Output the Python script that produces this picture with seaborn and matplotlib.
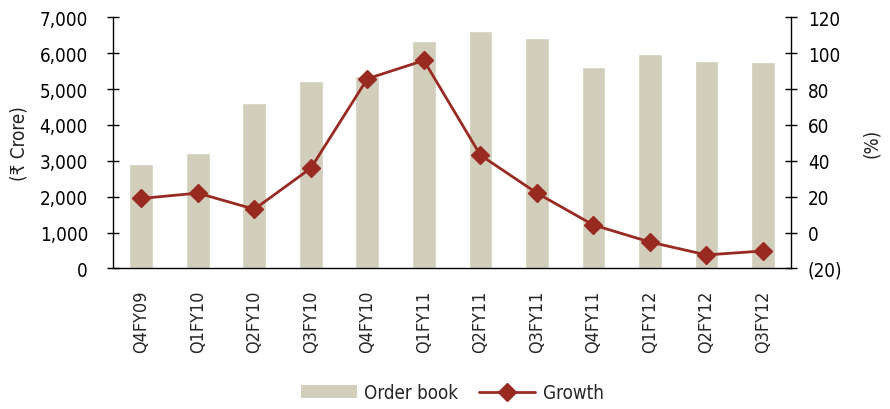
import matplotlib
matplotlib.use("Agg")
import matplotlib.pyplot as plt
import seaborn as sns
import pandas as pd
from matplotlib.patches import Patch
from matplotlib.lines import Line2D
from matplotlib.ticker import FuncFormatter, FixedLocator, NullFormatter

quarters = ["Q4FY09", "Q1FY10", "Q2FY10", "Q3FY10", "Q4FY10", "Q1FY11",
            "Q2FY11", "Q3FY11", "Q4FY11", "Q1FY12", "Q2FY12", "Q3FY12"]
order_book = [2900, 3230, 4600, 5230, 5370, 6330, 6610, 6420, 5620, 5980, 5780, 5760]
growth = [19.0, 22.0, 13.0, 35.9, 85.8, 96.0, 43.2, 22.0, 4.2, -5.3, -12.5, -10.3]

sns.set_theme(style="white")
plt.rcParams['font.family'] = ['DejaVu Sans']
plt.rcParams['font.stretch'] = 'condensed'
plt.rcParams['font.size'] = 13.5

BAR = "#D2CEBC"
RED = "#992A22"
FS = 13.5

df = pd.DataFrame({"q": quarters, "ob": order_book, "g": growth})

fig = plt.figure(figsize=(8.9, 4.1), dpi=100)
ax = fig.add_axes([0.127, 0.343, 0.762, 0.612])
sns.barplot(data=df, x="q", y="ob", color=BAR, width=0.42, saturation=1, ax=ax)
ax.set_ylim(0, 7000)
ax.set_xlim(-0.5, len(quarters) - 0.5)
ax.set_yticks(range(0, 7001, 1000))
ax.yaxis.set_major_formatter(FuncFormatter(lambda v, p: f"{int(v):,}"))
ax.set_ylabel("(₹ Crore)", fontsize=FS, color="#222222", labelpad=8)
ax.set_xlabel("")

ax2 = ax.twinx()
ax2.plot(range(len(quarters)), growth, color=RED, lw=2, marker="D", markersize=9.5)
ax2.set_ylim(-20, 120)
ax2.set_yticks(range(-20, 121, 20))
ax2.yaxis.set_major_formatter(FuncFormatter(lambda v, p: f"({abs(int(v))})" if v < 0 else f"{int(v)}"))
ax2.set_ylabel("(%)", fontsize=FS, color="#222222", labelpad=14)

for a in (ax, ax2):
    a.spines["top"].set_visible(False)
    for s in ("left", "right", "bottom"):
        a.spines[s].set_color("black")
        a.spines[s].set_linewidth(1)
ax2.spines["bottom"].set_visible(False)
ax2.spines["left"].set_visible(False)
ax.spines["right"].set_visible(False)

ax.tick_params(axis="y", direction="inout", length=8, width=1, labelsize=FS, colors="black", pad=14)
ax2.tick_params(axis="y", direction="inout", length=8, width=1, labelsize=FS, colors="black", pad=8)

ax.set_xticks(range(len(quarters)))
ax.set_xticklabels(quarters, rotation=90, fontsize=13)
ax.tick_params(axis="x", which="major", length=0, pad=15)
ax.xaxis.set_minor_locator(FixedLocator([i - 0.5 for i in range(len(quarters) + 1)]))
ax.xaxis.set_minor_formatter(NullFormatter())
ax.tick_params(axis="x", which="minor", direction="inout", length=10, width=1, color="black")

handles = [Patch(facecolor=BAR, edgecolor="none"),
           Line2D([0], [0], color=RED, lw=2, marker="D", markersize=9.5)]
fig.legend(handles, ["Order book", "Growth"], loc="center", bbox_to_anchor=(0.508, 0.04),
           ncol=2, frameon=False, fontsize=FS, handlelength=3.0, columnspacing=1.1,
           handletextpad=0.4)

fig.savefig("out.png", dpi=100)
